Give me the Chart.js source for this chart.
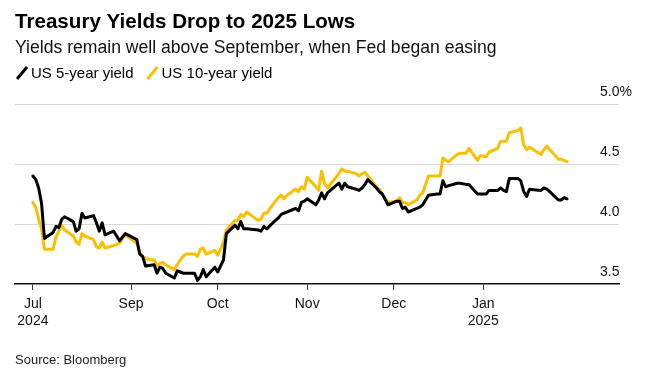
<!DOCTYPE html>
<html><head><meta charset="utf-8">
<script src="https://cdn.jsdelivr.net/npm/chart.js@4.4.1/dist/chart.umd.min.js"></script>
<style>html,body{margin:0;padding:0;background:#fff;}#wrap{width:655px;height:381px;position:relative;}canvas{display:block;}</style>
</head><body><div id="wrap"><canvas id="c" width="655" height="381"></canvas></div>
<script>
const titleText = 'Treasury Yields Drop to 2025 Lows';
const subtitleText = 'Yields remain well above September, when Fed began easing';
const sourceText = 'Source: Bloomberg';
const seriesNames = ['US 5-year yield', 'US 10-year yield'];
const seriesColors = ['#000000', '#fbbf00'];

const dates = [
'2024-07-29','2024-07-30','2024-07-31','2024-08-01','2024-08-02',
'2024-08-05','2024-08-06','2024-08-07','2024-08-08','2024-08-09',
'2024-08-12','2024-08-13','2024-08-14','2024-08-15','2024-08-16',
'2024-08-19','2024-08-20','2024-08-21','2024-08-22','2024-08-23',
'2024-08-26','2024-08-27','2024-08-28','2024-08-29','2024-08-30',
'2024-09-03','2024-09-04','2024-09-05','2024-09-06',
'2024-09-09','2024-09-10','2024-09-11','2024-09-12','2024-09-13',
'2024-09-16','2024-09-17','2024-09-18','2024-09-19','2024-09-20',
'2024-09-23','2024-09-24','2024-09-25','2024-09-26','2024-09-27',
'2024-09-30','2024-10-01','2024-10-02','2024-10-03','2024-10-04',
'2024-10-07','2024-10-08','2024-10-09','2024-10-10','2024-10-11',
'2024-10-15','2024-10-16','2024-10-17','2024-10-18',
'2024-10-21','2024-10-22','2024-10-23','2024-10-24','2024-10-25',
'2024-10-28','2024-10-29','2024-10-30','2024-10-31','2024-11-01',
'2024-11-04','2024-11-05','2024-11-06','2024-11-07','2024-11-08',
'2024-11-12','2024-11-13','2024-11-14','2024-11-15',
'2024-11-18','2024-11-19','2024-11-20','2024-11-21','2024-11-22',
'2024-11-25','2024-11-26','2024-11-27','2024-11-29',
'2024-12-02','2024-12-03','2024-12-04','2024-12-05','2024-12-06',
'2024-12-09','2024-12-10','2024-12-11','2024-12-12','2024-12-13',
'2024-12-16','2024-12-17','2024-12-18','2024-12-19','2024-12-20',
'2024-12-23','2024-12-24','2024-12-26','2024-12-27',
'2024-12-30','2024-12-31','2025-01-02','2025-01-03',
'2025-01-06','2025-01-07','2025-01-08','2025-01-09','2025-01-10',
'2025-01-13','2025-01-14','2025-01-15','2025-01-16','2025-01-17',
'2025-01-21','2025-01-22','2025-01-23','2025-01-24',
'2025-01-27','2025-01-28','2025-01-29','2025-01-30'
];

const fiveYear = [
4.40,4.37,4.30,4.17,3.88,
3.93,3.98,3.97,4.04,4.06,
4.02,3.94,3.96,4.09,4.05,
4.07,4.01,3.94,4.01,3.91,
3.94,3.90,3.86,3.89,3.92,
3.87,3.75,3.73,3.65,
3.66,3.59,3.64,3.63,3.59,
3.55,3.61,3.60,3.59,3.59,
3.59,3.53,3.56,3.62,3.56,
3.64,3.60,3.65,3.70,3.92,
3.99,3.96,4.02,3.96,3.96,
3.95,3.94,3.98,3.96,
4.03,4.05,4.08,4.09,4.10,
4.13,4.11,4.18,4.19,4.21,
4.16,4.20,4.26,4.21,4.26,
4.34,4.29,4.34,4.31,
4.29,4.28,4.30,4.33,4.37,
4.30,4.27,4.25,4.16,
4.19,4.19,4.13,4.14,4.10,
4.13,4.14,4.16,4.20,4.24,
4.25,4.25,4.36,4.31,4.32,
4.34,4.34,4.33,4.33,
4.25,4.25,4.25,4.28,
4.28,4.30,4.28,4.27,4.38,
4.38,4.36,4.27,4.23,4.29,
4.28,4.30,4.29,4.27,
4.20,4.20,4.22,4.21
];

const tenYear = [
4.18,4.14,4.04,3.96,3.79,
3.79,3.89,3.94,3.99,3.95,
3.90,3.85,3.83,3.92,3.90,
3.87,3.81,3.80,3.85,3.80,
3.82,3.83,3.84,3.88,3.91,
3.84,3.76,3.73,3.71,
3.70,3.65,3.67,3.68,3.66,
3.62,3.66,3.70,3.73,3.75,
3.75,3.73,3.79,3.80,3.75,
3.78,3.74,3.79,3.85,3.95,
4.03,4.03,4.08,4.06,4.10,
4.03,4.04,4.09,4.09,
4.19,4.22,4.24,4.21,4.24,
4.29,4.27,4.31,4.29,4.39,
4.31,4.28,4.44,4.34,4.30,
4.42,4.46,4.44,4.44,
4.42,4.40,4.42,4.43,4.40,
4.31,4.29,4.25,4.18,
4.19,4.22,4.18,4.18,4.16,
4.20,4.24,4.26,4.33,4.40,
4.40,4.40,4.55,4.53,4.52,
4.58,4.59,4.59,4.63,
4.53,4.57,4.56,4.60,
4.63,4.69,4.69,4.69,4.76,
4.78,4.80,4.66,4.62,4.64,
4.58,4.62,4.65,4.62,
4.54,4.54,4.53,4.52
];

const tickDates = ['2024-07-29','2024-09-01','2024-10-01','2024-11-01','2024-12-01','2025-01-01'];
const tickMonths = ['Jul','Sep','Oct','Nov','Dec','Jan'];
const tickYears = ['2024','','','','','2025'];
const yTicks = [3.5, 4.0, 4.5, 5.0];
const yTickLabels = ['3.5', '4.0', '4.5', '5.0%'];

const FONT = '"Liberation Sans", Arial, Helvetica, sans-serif';
const startMs = Date.parse(dates[0] + 'T00:00:00Z');
function dayNum(s) { return (Date.parse(s + 'T00:00:00Z') - startMs) / 86400000; }

const pts5 = dates.map((d, i) => ({ x: dayNum(d), y: fiveYear[i] }));
const pts10 = dates.map((d, i) => ({ x: dayNum(d), y: tenYear[i] }));

const decor = {
  id: 'decor',
  afterDraw(chart) {
    const ctx = chart.ctx;
    ctx.save();
    ctx.textBaseline = 'alphabetic';
    ctx.textAlign = 'left';
    // title
    ctx.fillStyle = '#000';
    ctx.font = 'bold 20.6px ' + FONT;
    ctx.fillText(titleText, 15, 28);
    // subtitle
    ctx.fillStyle = '#111';
    ctx.font = '17.6px ' + FONT;
    ctx.fillText(subtitleText, 15, 53);
    // legend
    ctx.font = '15px ' + FONT;
    let x = 17;
    seriesNames.forEach((name, i) => {
      ctx.strokeStyle = seriesColors[i];
      ctx.lineWidth = 3;
      ctx.lineCap = 'butt';
      ctx.beginPath();
      ctx.moveTo(x, 79);
      ctx.lineTo(x + 10, 67);
      ctx.stroke();
      ctx.fillStyle = '#000';
      ctx.fillText(name, x + 14, 78);
      x += 14 + ctx.measureText(name).width + 14;
    });
    // y labels
    const ys = chart.scales.y;
    ctx.font = '14px ' + FONT;
    ctx.fillStyle = '#111';
    yTicks.forEach((v, i) => {
      const py = ys.getPixelForValue(v);
      ctx.fillText(yTickLabels[i], 600, py - 8.5);
    });
    // source
    ctx.font = '13px ' + FONT;
    ctx.fillStyle = '#222';
    ctx.fillText(sourceText, 15, 364);
    ctx.restore();
  }
};

new Chart(document.getElementById('c'), {
  type: 'line',
  data: {
    datasets: [
      { label: seriesNames[0], data: pts5, borderColor: seriesColors[0], borderWidth: 3, pointRadius: 0, tension: 0, borderJoinStyle: 'round', borderCapStyle: 'round' },
      { label: seriesNames[1], data: pts10, borderColor: seriesColors[1], borderWidth: 3, pointRadius: 0, tension: 0, borderJoinStyle: 'round', borderCapStyle: 'round' }
    ]
  },
  options: {
    responsive: false,
    animation: false,
    devicePixelRatio: 1,
    layout: { padding: { left: 15, right: 36, top: 104, bottom: 0 } },
    plugins: { legend: { display: false }, title: { display: false }, tooltip: { enabled: false } },
    scales: {
      x: {
        type: 'linear',
        min: -6.2,
        max: 203,
        afterBuildTicks(scale) { scale.ticks = tickDates.map(d => ({ value: dayNum(d) })); },
        afterFit(scale) { scale.height = 97; },
        grid: { display: true, drawOnChartArea: false, drawTicks: true, tickLength: 6, tickColor: '#333', tickWidth: 1 },
        border: { display: true, color: '#111', width: 1.5 },
        ticks: {
          autoSkip: false, maxRotation: 0, minRotation: 0, padding: 5,
          color: '#111', font: { family: FONT, size: 14, lineHeight: 1.25 },
          callback(value, index) { return tickYears[index] ? [tickMonths[index], tickYears[index]] : tickMonths[index]; }
        }
      },
      y: {
        position: 'right',
        min: 3.5,
        max: 5.0,
        afterBuildTicks(scale) { scale.ticks = yTicks.map(v => ({ value: v })); },
        afterFit(scale) { scale.width = 0; },
        grid: { drawTicks: false, lineWidth: 1, color(ctx) { return ctx.tick && ctx.tick.value === 3.5 ? 'rgba(0,0,0,0)' : '#d9d9d9'; } },
        border: { display: false },
        ticks: { display: false }
      }
    }
  },
  plugins: [decor]
});
</script>
</body></html>
